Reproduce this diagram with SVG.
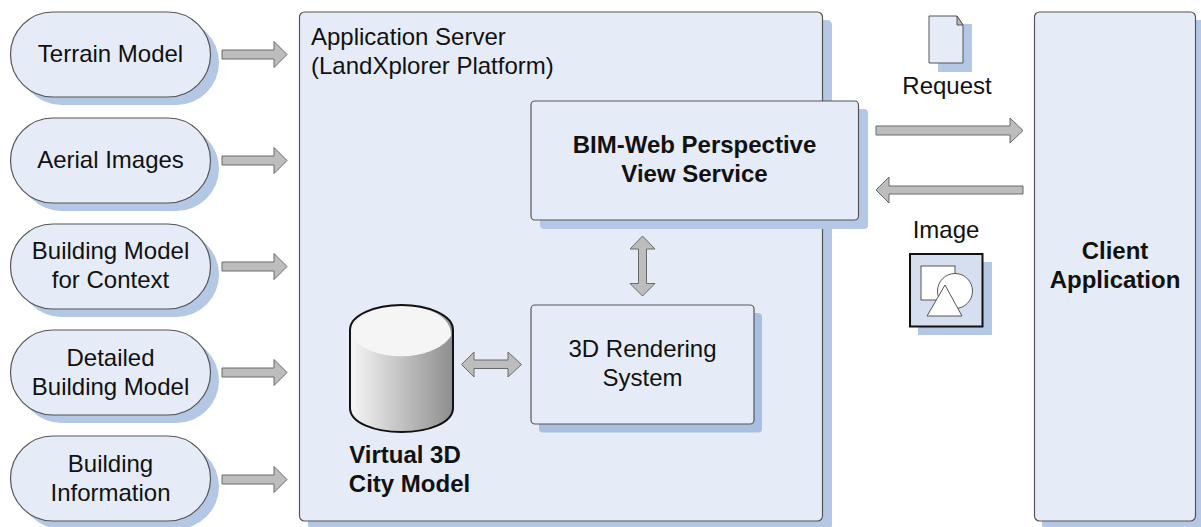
<svg xmlns="http://www.w3.org/2000/svg" width="1201" height="527" viewBox="0 0 1201 527">
<style>
text{font-family:"Liberation Sans",Arial,sans-serif;font-size:24px;fill:#111;text-anchor:middle}
.b{font-weight:bold}
.l{text-anchor:start}
.sh{fill:#b4c7e4}
.n{fill:#e6ecf7;stroke:#555;stroke-width:1.2}
.a{fill:#bdbdbd;stroke:#6a6a6a;stroke-width:1}
</style>
<defs>
<linearGradient id="cyl" x1="0" x2="1" y1="0" y2="0"><stop offset="0" stop-color="#f6f6f6"/><stop offset="1" stop-color="#8e8e8e"/></linearGradient>
<path id="ar" class="a" d="M222 -4.500H274V-13L287 0L274 13V4.500H222Z"/>
</defs>
<rect width="1201" height="527" fill="#fff"/>
<g id="terrain"><rect class="sh" x="19" y="20" width="200" height="85" rx="42.500"/><rect class="n" x="10.500" y="12" width="200" height="85" rx="42.500"/><text x="110.500" y="62">Terrain Model</text></g>
<g id="aerial"><rect class="sh" x="19" y="126" width="200" height="85" rx="42.500"/><rect class="n" x="10.500" y="118" width="200" height="85" rx="42.500"/><text x="110.500" y="168">Aerial Images</text></g>
<g id="context"><rect class="sh" x="19" y="232" width="200" height="85" rx="42.500"/><rect class="n" x="10.500" y="224" width="200" height="85" rx="42.500"/><text x="110.500" y="259">Building Model</text><text x="110.500" y="288">for Context</text></g>
<g id="detailed"><rect class="sh" x="19" y="338" width="200" height="85" rx="42.500"/><rect class="n" x="10.500" y="330" width="200" height="85" rx="42.500"/><text x="110.500" y="366">Detailed</text><text x="110.500" y="395">Building Model</text></g>
<g id="information"><rect class="sh" x="19" y="444" width="200" height="85" rx="42.500"/><rect class="n" x="10.500" y="436" width="200" height="85" rx="42.500"/><text x="110.500" y="472">Building</text><text x="110.500" y="501">Information</text></g>
<g id="server"><rect class="sh" x="308" y="20" width="524" height="510" rx="5"/><rect class="n" x="299.500" y="12" width="523" height="509" rx="5"/><text class="l" x="311" y="45">Application Server</text><text class="l" x="311" y="74">(LandXplorer Platform)</text></g>
<g id="bim"><rect class="sh" x="540" y="109" width="328" height="120" rx="4"/><rect class="n" x="531" y="101" width="327.500" height="119" rx="4"/><text class="b" x="694.500" y="153">BIM-Web Perspective</text><text class="b" x="694.500" y="182">View Service</text></g>
<g id="rendering"><rect fill="#a9bfe2" x="539" y="313" width="223" height="119.500" rx="4"/><rect class="n" x="531" y="305" width="223" height="119" rx="4"/><text x="642.500" y="357">3D Rendering</text><text x="642.500" y="386">System</text></g>
<g id="city"><path d="M350 330C350 315 375 305 401.500 305C428 305 453 315 453 330V408C453 423 428 432 401.500 432C375 432 350 423 350 408Z" fill="url(#cyl)"/><path d="M351 336C351 316 375 306 401.500 306C428 306 452 316 451 336C433 363 369 363 351 336Z" fill="#f5f5f5"/><path d="M350 330C350 315 375 305 401.500 305C428 305 453 315 453 330V408C453 423 428 432 401.500 432C375 432 350 423 350 408Z" fill="none" stroke="#111" stroke-width="2"/><text class="b" x="405" y="463">Virtual 3D</text><text class="b" x="409.500" y="492">City Model</text></g>
<g id="client"><rect class="sh" x="1042" y="20" width="170" height="510" rx="5"/><rect class="n" x="1034.500" y="12" width="161" height="509" rx="5"/><text class="b" x="1115" y="259">Client</text><text class="b" x="1115" y="288">Application</text></g>
<g id="request"><rect class="sh" x="938" y="24" width="34" height="48"/><path d="M929 16H957L963 25V63H929Z" fill="#e6ecf7" stroke="#555" stroke-width="1"/><path d="M957 16V25H963Z" fill="#bbb" stroke="#555" stroke-width="1"/><text x="947" y="94">Request</text></g>
<g id="image"><rect class="sh" x="918" y="262" width="74" height="73"/><rect x="910" y="254" width="72.500" height="72.500" fill="#d6dff0" stroke="#111" stroke-width="2"/><rect x="921" y="266" width="34" height="34" fill="#fff" stroke="#555"/><circle cx="955" cy="291" r="17.500" fill="#fff" stroke="#555"/><path d="M945 285L962 316H927Z" fill="#fff" stroke="#555"/><text x="946" y="238">Image</text></g>
<g id="connectors">
<use href="#ar" y="54.500"/><use href="#ar" y="160.500"/><use href="#ar" y="266.500"/><use href="#ar" y="372.500"/><use href="#ar" y="479.500"/>
<path class="a" d="M876 126H1010V118L1023 130.500L1010 143V135H876Z"/>
<path class="a" d="M1023 186V194H889V203L876 190L889 177V186Z"/>
<path class="a" d="M642.500 236L655 249H646.500V283.500H655L642.500 296L630 283.500H638.500V249H630Z"/>
<path class="a" d="M461.500 364.500L474 352V360H508V352L521.500 364.500L508 377V368.500H474V377Z"/>
</g>
</svg>
